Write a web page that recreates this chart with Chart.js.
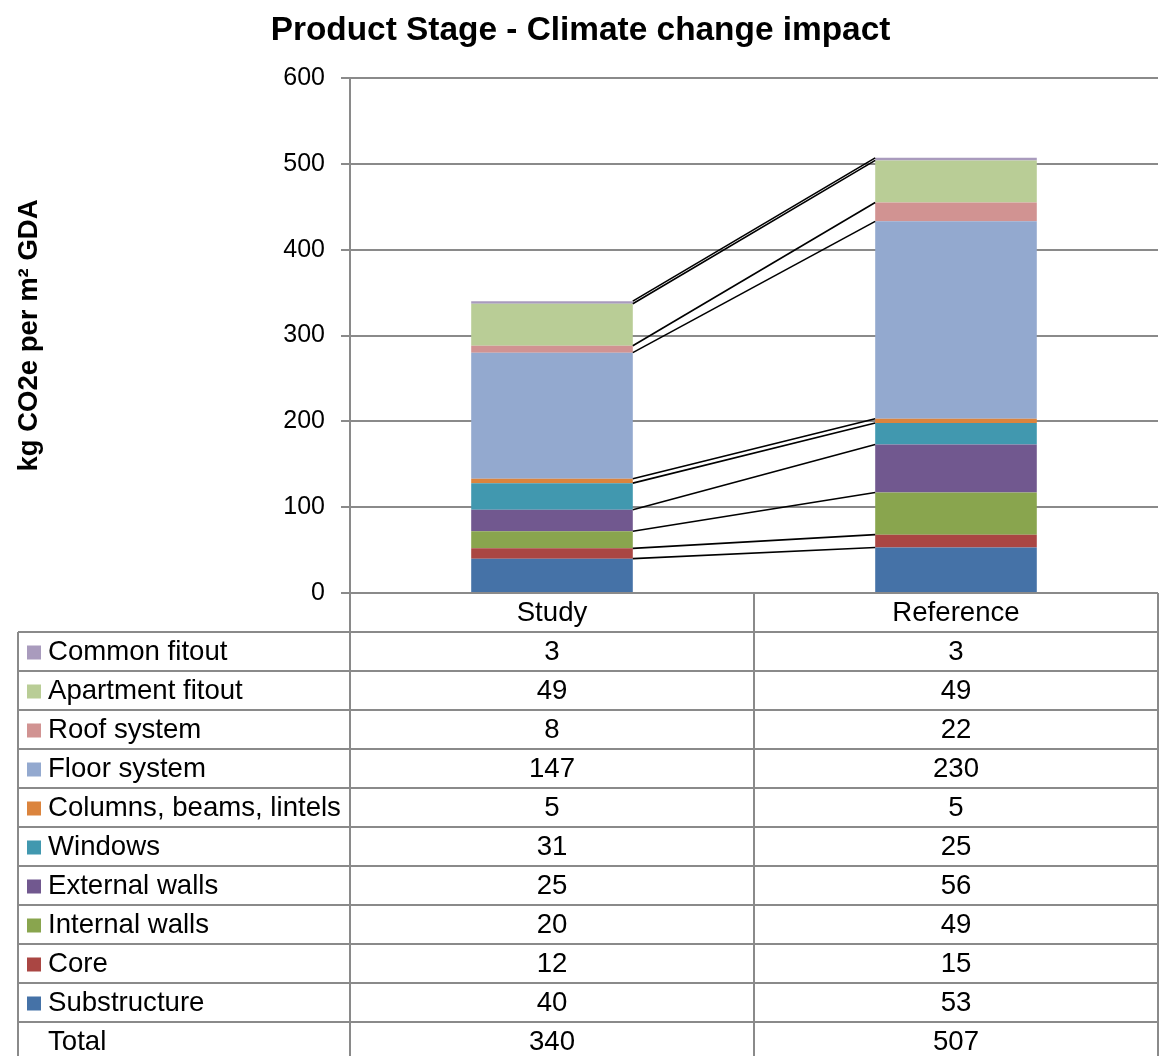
<!DOCTYPE html>
<html>
<head>
<meta charset="utf-8">
<title>Product Stage - Climate change impact</title>
<script src="https://cdn.jsdelivr.net/npm/chart.js@4.4.1/dist/chart.umd.min.js"></script>
<style>
  html, body { margin: 0; padding: 0; background: #ffffff; }
  #wrap { width: 1161px; height: 1056px; position: relative; }
</style>
</head>
<body>
<div id="wrap"><canvas id="chart" width="1161" height="1056"></canvas></div>
<script>
// Building elements, stacked from the bottom of each bar upwards
const categories = ['Study', 'Reference'];
const seriesNames = [
  'Substructure',
  'Core',
  'Internal walls',
  'External walls',
  'Windows',
  'Columns, beams, lintels',
  'Floor system',
  'Roof system',
  'Apartment fitout',
  'Common fitout'
];
const studyValues     = [40, 12, 20, 25, 31, 5, 147, 8, 49, 3];
const referenceValues = [53, 15, 49, 56, 25, 5, 230, 22, 49, 3];
const yTicks = [0, 100, 200, 300, 400, 500, 600];

const seriesColors = [
  '#4572A7', '#AA4643', '#89A54E', '#71588F', '#4198AF',
  '#DB843D', '#93A9CF', '#D19392', '#B9CD96', '#A99BBD'
];

const FONT = '"Liberation Sans", Arial, Helvetica, sans-serif';
const GRID = '#8a8a8a';

const datasets = seriesNames.map((name, i) => ({
  label: name,
  data: [studyValues[i], referenceValues[i]],
  backgroundColor: seriesColors[i],
  borderWidth: 0,
  barPercentage: 0.4,
  categoryPercentage: 1.0
}));

// Joins the top of each segment in one bar to the same segment in the next bar
const seriesLines = {
  id: 'seriesLines',
  afterDatasetsDraw(chart) {
    const ctx = chart.ctx;
    ctx.save();
    ctx.strokeStyle = '#000000';
    ctx.lineWidth = 1.6;
    chart.data.datasets.forEach((ds, d) => {
      const bars = chart.getDatasetMeta(d).data;
      for (let i = 0; i < bars.length - 1; i++) {
        const a = bars[i], b = bars[i + 1];
        ctx.beginPath();
        ctx.moveTo(a.x + a.width / 2, a.y);
        ctx.lineTo(b.x - b.width / 2, b.y);
        ctx.stroke();
      }
    });
    ctx.restore();
  }
};

// Title plus the data table with legend keys under the plot
const titleAndTable = {
  id: 'titleAndTable',
  afterDraw(chart) {
    const ctx = chart.ctx;
    const area = chart.chartArea;
    const xs = chart.scales.x;
    const cols = categories.map((c, i) => xs.getPixelForValue(i));
    const mid = (cols[0] + cols[1]) / 2;
    const tableLeft = 18;
    const rowH = 39;
    const top = area.bottom;

    ctx.save();
    // chart title
    ctx.fillStyle = '#000000';
    ctx.font = 'bold 33.4px ' + FONT;
    ctx.textAlign = 'center';
    ctx.textBaseline = 'alphabetic';
    ctx.fillText('Product Stage - Climate change impact', chart.width / 2, 40);

    const rows = [];
    for (let i = seriesNames.length - 1; i >= 0; i--) {
      rows.push({ name: seriesNames[i], color: seriesColors[i], vals: [studyValues[i], referenceValues[i]] });
    }
    const totals = categories.map((c, k) =>
      (k === 0 ? studyValues : referenceValues).reduce((s, v) => s + v, 0));
    rows.push({ name: 'Total', color: null, vals: totals });

    const bottom = top + rowH * (rows.length + 1);

    // grid lines of the table
    ctx.strokeStyle = GRID;
    ctx.lineWidth = 2;
    ctx.beginPath();
    ctx.moveTo(area.left - 9, top); ctx.lineTo(area.right, top);
    for (let r = 1; r <= rows.length; r++) {
      const y = top + r * rowH;
      ctx.moveTo(tableLeft, y); ctx.lineTo(area.right, y);
    }
    ctx.moveTo(area.left, top); ctx.lineTo(area.left, bottom);
    ctx.moveTo(mid, top); ctx.lineTo(mid, bottom);
    ctx.moveTo(area.right, top); ctx.lineTo(area.right, bottom);
    ctx.moveTo(tableLeft, top + rowH); ctx.lineTo(tableLeft, bottom);
    ctx.stroke();

    // header
    ctx.fillStyle = '#000000';
    ctx.font = '27.6px ' + FONT;
    ctx.textBaseline = 'middle';
    ctx.textAlign = 'center';
    categories.forEach((c, i) => ctx.fillText(c, cols[i], top + rowH / 2 + 1));

    // rows
    rows.forEach((row, r) => {
      const cy = top + (r + 1) * rowH + rowH / 2 + 1;
      if (row.color) {
        ctx.fillStyle = row.color;
        ctx.fillRect(27, cy - 7, 14, 14);
      }
      ctx.fillStyle = '#000000';
      ctx.textAlign = 'left';
      ctx.fillText(row.name, 48, cy);
      ctx.textAlign = 'center';
      row.vals.forEach((v, k) => ctx.fillText(String(v), cols[k], cy));
    });
    ctx.restore();
  }
};

new Chart(document.getElementById('chart'), {
  type: 'bar',
  data: { labels: categories, datasets },
  plugins: [seriesLines, titleAndTable],
  options: {
    responsive: false,
    animation: false,
    events: [],
    layout: { padding: { left: 0, right: 3, top: 78, bottom: 463 } },
    plugins: {
      legend: { display: false },
      title: { display: false },
      tooltip: { enabled: false }
    },
    scales: {
      x: {
        stacked: true,
        display: false
      },
      y: {
        stacked: true,
        min: 0,
        max: 600,
        afterFit(scale) { scale.width = 350; },
        afterBuildTicks(scale) { scale.ticks = yTicks.map(v => ({ value: v })); },
        ticks: {
          color: '#000000',
          font: { family: FONT, size: 25 },
          padding: 16
        },
        grid: {
          color: GRID,
          lineWidth: 2,
          tickLength: 9,
          drawTicks: true
        },
        border: { display: true, color: GRID, width: 2 },
        title: {
          display: true,
          text: 'kg CO2e per m² GDA',
          color: '#000000',
          font: { family: FONT, size: 27.5, weight: 'bold' },
          padding: { top: 13, bottom: 0 }
        }
      }
    }
  }
});
</script>
</body>
</html>
